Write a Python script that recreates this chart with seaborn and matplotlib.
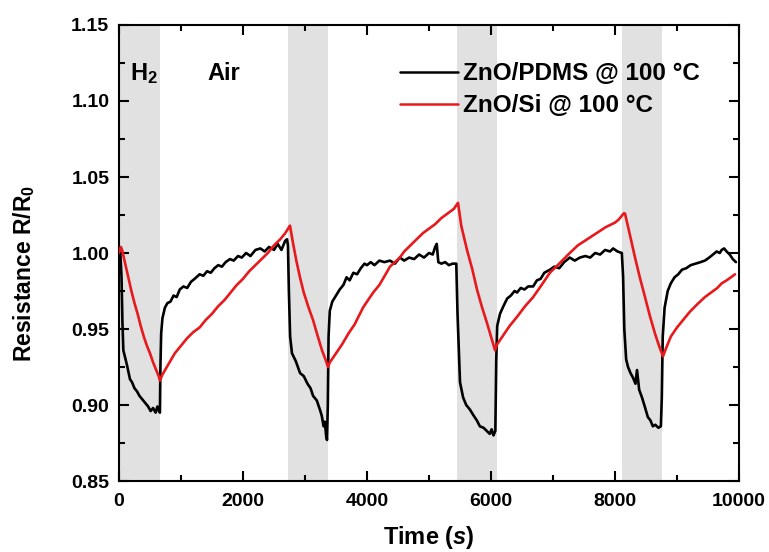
import numpy as np
import pandas as pd
import matplotlib
matplotlib.use("Agg")
import matplotlib.pyplot as plt
from matplotlib.ticker import MultipleLocator, FormatStrFormatter
import seaborn as sns

# ---------------- data ----------------
pdms_t = [0, 20, 40, 55, 70, 100, 130, 177, 210, 250, 290, 330, 390, 430, 470, 510, 550, 590, 620, 645, 660,
          668, 680, 700, 740, 780, 830, 880, 930, 980, 1040, 1100, 1160, 1220, 1300, 1360, 1420, 1480, 1540,
          1600, 1660, 1720, 1790, 1850, 1920, 1980, 2050, 2120, 2200, 2280, 2350, 2420, 2500, 2560, 2620,
          2680, 2710, 2725,
          2740, 2760, 2790, 2850, 2920, 2980, 3040, 3090, 3130, 3190, 3240, 3270, 3300, 3320, 3340, 3355,
          3368, 3380, 3400, 3440, 3500, 3560, 3620, 3670, 3720, 3780, 3840, 3900, 3960, 4000, 4060, 4120,
          4200, 4280, 4370, 4450, 4530, 4600, 4680, 4760, 4840, 4920, 5000, 5060, 5100, 5125, 5150, 5200,
          5260, 5320, 5380, 5440,
          5460, 5500, 5550, 5600, 5660, 5720, 5770, 5820, 5880, 5930, 5980, 6010, 6040, 6070,
          6085, 6100, 6145, 6200, 6260, 6320, 6380, 6420, 6480, 6540, 6600, 6680, 6740, 6800, 6860, 6950,
          7020, 7100, 7180, 7270, 7350, 7435, 7520, 7600, 7680, 7760, 7840, 7920, 7970, 8040, 8110,
          8130, 8150, 8180, 8210, 8250, 8290, 8330, 8355, 8390, 8435, 8480, 8530, 8570, 8610, 8650, 8700, 8740,
          8755, 8770, 8800, 8850, 8900, 8960, 9020, 9080, 9150, 9220, 9300, 9380, 9450, 9520, 9580, 9640,
          9690, 9720, 9760, 9800, 9850, 9900, 9950]
pdms_r = [1.003, 1.001, 0.985, 0.955, 0.936, 0.931, 0.926, 0.917, 0.915, 0.911, 0.909, 0.906, 0.903, 0.901,
          0.899, 0.896, 0.898, 0.895, 0.899, 0.896, 0.895,
          0.925, 0.947, 0.957, 0.964, 0.967, 0.968, 0.972, 0.971, 0.976, 0.978, 0.977, 0.981, 0.983, 0.986,
          0.985, 0.988, 0.987, 0.990, 0.992, 0.991, 0.994, 0.996, 0.995, 0.998, 0.997, 1.000, 0.998, 1.002,
          1.003, 1.001, 1.004, 1.002, 1.006, 1.002, 1.008, 1.009, 1.005,
          0.975, 0.945, 0.934, 0.929, 0.921, 0.919, 0.914, 0.911, 0.906, 0.903, 0.897, 0.893, 0.886, 0.889,
          0.880, 0.877,
          0.900, 0.945, 0.962, 0.968, 0.972, 0.976, 0.979, 0.984, 0.982, 0.987, 0.986, 0.990, 0.993, 0.992,
          0.994, 0.992, 0.995, 0.994, 0.995, 0.993, 0.997, 0.995, 0.997, 0.996, 0.999, 0.997, 1.000, 0.999,
          1.004, 1.006, 0.994, 0.993, 0.994, 0.992, 0.993, 0.993,
          0.960, 0.915, 0.905, 0.900, 0.897, 0.893, 0.890, 0.886, 0.885, 0.883, 0.881, 0.884, 0.880, 0.883,
          0.930, 0.952, 0.960, 0.965, 0.970, 0.972, 0.975, 0.974, 0.977, 0.976, 0.978, 0.978, 0.982, 0.983,
          0.987, 0.989, 0.991, 0.990, 0.994, 0.997, 0.995, 0.997, 0.998, 0.997, 1.000, 0.999, 1.002, 1.001,
          1.003, 1.001, 1.000,
          0.985, 0.950, 0.930, 0.925, 0.921, 0.918, 0.914, 0.923, 0.910, 0.905, 0.899, 0.892, 0.890, 0.886,
          0.887, 0.885, 0.886,
          0.905, 0.945, 0.964, 0.975, 0.980, 0.984, 0.986, 0.989, 0.990, 0.992, 0.993, 0.994, 0.995, 0.997,
          0.999, 1.001, 1.000, 1.002, 1.003, 1.001, 0.999, 0.996, 0.994]

si_t = [0, 30, 50, 100, 150, 200, 250, 300, 350, 400, 450, 500, 550, 600, 640, 660,
        700, 800, 900, 1000, 1100, 1200, 1300, 1400, 1500, 1600, 1700, 1800, 1900, 2000, 2100, 2200, 2300,
        2400, 2500, 2600, 2680, 2758,
        2800, 2860, 2919, 2980, 3050, 3129, 3200, 3274, 3330, 3371,
        3400, 3500, 3600, 3700, 3800, 3935, 4000, 4100, 4200, 4300, 4370, 4450, 4530, 4600, 4700, 4800,
        4900, 5000, 5100, 5200, 5300, 5400, 5468,
        5520, 5613, 5700, 5774, 5850, 5935, 6000, 6065,
        6100, 6200, 6300, 6420, 6550, 6680, 6800, 6950, 7100, 7270, 7400, 7550, 7700, 7850, 8000, 8060, 8140,
        8161, 8240, 8323, 8400, 8484, 8560, 8645, 8710, 8774,
        8820, 8900, 9000, 9080, 9200, 9320, 9450, 9550, 9650, 9720, 9800, 9870, 9935]
si_r = [1.000, 1.004, 1.002, 0.993, 0.984, 0.975, 0.967, 0.960, 0.952, 0.945, 0.939, 0.934, 0.928, 0.923,
        0.919, 0.916,
        0.920, 0.927, 0.934, 0.939, 0.944, 0.948, 0.951, 0.956, 0.960, 0.965, 0.969, 0.974, 0.979, 0.983,
        0.988, 0.992, 0.996, 1.000, 1.005, 1.009, 1.013, 1.018,
        1.008, 0.995, 0.984, 0.974, 0.965, 0.956, 0.946, 0.936, 0.930, 0.925,
        0.928, 0.934, 0.940, 0.947, 0.953, 0.964, 0.968, 0.974, 0.979, 0.986, 0.991, 0.994, 0.997, 1.001,
        1.005, 1.009, 1.013, 1.016, 1.019, 1.023, 1.026, 1.029, 1.033,
        1.018, 1.002, 0.989, 0.976, 0.965, 0.954, 0.945, 0.936,
        0.940, 0.946, 0.952, 0.958, 0.965, 0.971, 0.978, 0.987, 0.993, 1.000, 1.005, 1.009, 1.013, 1.017,
        1.020, 1.022, 1.026,
        1.026, 1.012, 0.997, 0.984, 0.971, 0.959, 0.947, 0.939, 0.932,
        0.937, 0.945, 0.951, 0.955, 0.961, 0.966, 0.971, 0.974, 0.977, 0.980, 0.982, 0.984, 0.986]

h2_start = [0, 2730, 5450, 8120]
h2_end = [660, 3370, 6090, 8760]

series_names = ["ZnO/PDMS @ 100 °C", "ZnO/Si @ 100 °C"]
series_colors = ["#000000", "#e8191c"]

# ---------------- figure ----------------
sns.set_style("ticks")
plt.rcParams["font.family"] = ["Liberation Sans", "DejaVu Sans"]
plt.rcParams["font.weight"] = "bold"
plt.rcParams["text.color"] = "black"
plt.rcParams["axes.labelcolor"] = "black"
plt.rcParams["xtick.color"] = "black"
plt.rcParams["ytick.color"] = "black"
plt.rcParams["mathtext.fontset"] = "custom"
plt.rcParams["mathtext.rm"] = "Liberation Sans:bold"
plt.rcParams["mathtext.it"] = "Liberation Sans:bold:italic"
plt.rcParams["mathtext.bf"] = "Liberation Sans:bold"

fig = plt.figure(figsize=(7.69, 5.52), dpi=100)
ax = fig.add_axes([119 / 769, 71 / 552, 620 / 769, 456 / 552])

for s, e in zip(h2_start, h2_end):
    ax.axvspan(s, e, color="#e1e1e1", lw=0, zorder=0)

df = pd.concat([
    pd.DataFrame({"Time": pdms_t, "R": pdms_r, "Sample": series_names[0]}),
    pd.DataFrame({"Time": si_t, "R": si_r, "Sample": series_names[1]}),
])
sns.lineplot(data=df, x="Time", y="R", hue="Sample", palette=dict(zip(series_names, series_colors)),
             ax=ax, linewidth=1.9, estimator=None, sort=False, zorder=3)

ax.set_xlim(0, 10000)
ax.set_ylim(0.85, 1.15)
ax.xaxis.set_major_locator(MultipleLocator(2000))
ax.xaxis.set_minor_locator(MultipleLocator(1000))
ax.yaxis.set_major_locator(MultipleLocator(0.05))
ax.yaxis.set_minor_locator(MultipleLocator(0.025))
ax.yaxis.set_major_formatter(FormatStrFormatter("%.2f"))

for sp in ax.spines.values():
    sp.set_linewidth(1.5)
    sp.set_color("black")
ax.tick_params(which="both", direction="in", top=True, right=True, width=1.5, colors="black",
               labelsize=14)
ax.tick_params(axis="x", which="both", pad=9)
ax.tick_params(axis="y", which="both", pad=7)
ax.tick_params(which="major", length=7)
ax.tick_params(which="minor", length=4)
for lab in ax.get_xticklabels() + ax.get_yticklabels():
    lab.set_fontweight("bold")

ax.set_xlabel("Time ($\\mathit{s}$)", fontsize=17, fontweight="bold", labelpad=10)
ax.set_ylabel("Resistance R/R$_0$", fontsize=16.5, fontweight="bold")
ax.yaxis.set_label_coords(-0.132, 0.456)

ax.text(170, 1.118, "H$_2$", fontsize=17, fontweight="bold", va="center", ha="left")
ax.text(1420, 1.118, "Air", fontsize=17, fontweight="bold", va="center", ha="left")

leg = ax.legend(loc="upper left", bbox_to_anchor=(0.453, 0.918), frameon=False,
                handlelength=2.4, handletextpad=0.2, labelspacing=0.36, borderpad=0, borderaxespad=0,
                prop={"weight": "bold", "size": 17.5})
for line in leg.get_lines():
    line.set_linewidth(1.8)

fig.savefig("out.png", dpi=100)
